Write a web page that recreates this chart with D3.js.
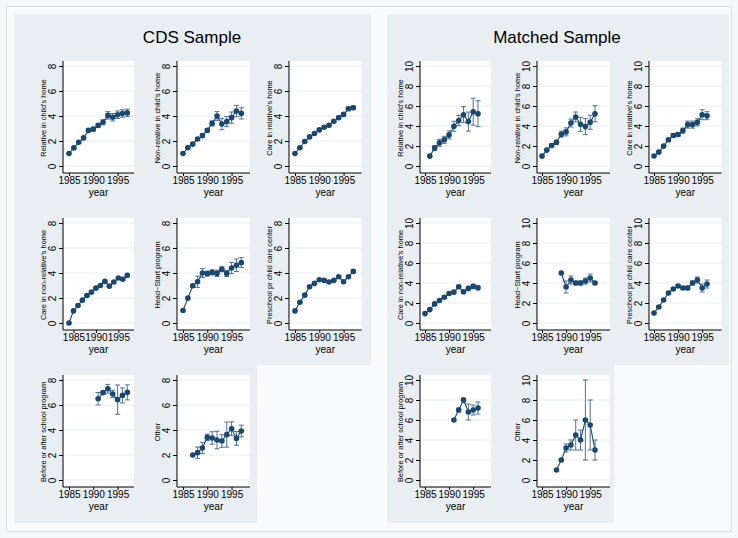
<!DOCTYPE html>
<html>
<head>
<meta charset="utf-8">
<script src="https://cdn.jsdelivr.net/npm/d3@7"></script>
<style>
body { margin: 0; background: #ffffff; }
svg { display: block; font-family: "Liberation Sans", Arial, sans-serif; }
</style>
</head>
<body>
<div id="chart"></div>
<script>
// Data: mean value by child's birth year, with half-width of the 95% band
var xTicks = [1985, 1990, 1995];
var cdsTicks = [0, 2, 4, 6, 8];
var matTicks = [0, 2, 4, 6, 8, 10];

// CDS sample
var cdsYears = [1985, 1986, 1987, 1988, 1989, 1990, 1991, 1992, 1993, 1994, 1995, 1996, 1997];
var cdsYears84 = [1984, 1985, 1986, 1987, 1988, 1989, 1990, 1991, 1992, 1993, 1994, 1995, 1996, 1997];
var cdsYearsSchool = [1991, 1992, 1993, 1994, 1995, 1996, 1997];
var cdsYearsOther = [1987, 1988, 1989, 1990, 1991, 1992, 1993, 1994, 1995, 1996, 1997];

var cdsRelChild = [1.0, 1.45, 1.9, 2.25, 2.85, 2.95, 3.25, 3.5, 4.05, 3.9, 4.1, 4.2, 4.25];
var cdsRelChildErr = [0, 0.05, 0.08, 0.1, 0.12, 0.15, 0.15, 0.2, 0.3, 0.3, 0.3, 0.3, 0.3];
var cdsNonRelChild = [1.0, 1.47, 1.75, 2.16, 2.43, 2.85, 3.41, 4.0, 3.36, 3.55, 3.87, 4.4, 4.21];
var cdsNonRelChildErr = [0, 0.08, 0.1, 0.1, 0.12, 0.15, 0.2, 0.35, 0.45, 0.4, 0.45, 0.45, 0.45];
var cdsRelHome = [1.0, 1.46, 1.96, 2.33, 2.6, 2.89, 3.1, 3.26, 3.58, 3.87, 4.13, 4.58, 4.66];
var cdsRelHomeErr = [0, 0.05, 0.08, 0.1, 0.1, 0.1, 0.1, 0.12, 0.12, 0.12, 0.15, 0.15, 0.15];
var cdsNonRelHome = [0, 0.97, 1.4, 1.83, 2.2, 2.47, 2.79, 3.0, 3.33, 2.95, 3.28, 3.6, 3.5, 3.81];
var cdsNonRelHomeErr = [0, 0.03, 0.05, 0.05, 0.06, 0.06, 0.07, 0.07, 0.08, 0.08, 0.08, 0.1, 0.1, 0.1];
var cdsHeadStart = [1.0, 1.99, 2.98, 3.3, 4.0, 3.95, 4.05, 3.97, 4.3, 3.97, 4.4, 4.62, 4.83];
var cdsHeadStartErr = [0, 0.05, 0.1, 0.45, 0.35, 0.2, 0.2, 0.25, 0.2, 0.25, 0.45, 0.5, 0.4];
var cdsPreschool = [0.97, 1.66, 2.23, 2.9, 3.17, 3.46, 3.41, 3.28, 3.41, 3.7, 3.3, 3.7, 4.13];
var cdsPreschoolErr = [0, 0.04, 0.05, 0.06, 0.06, 0.07, 0.07, 0.07, 0.07, 0.08, 0.08, 0.08, 0.1];
var cdsSchool = [6.5, 6.99, 7.3, 6.88, 6.43, 6.77, 7.01];
var cdsSchoolErr = [0.5, 0.1, 0.35, 0.3, 1.17, 0.6, 0.6];
var cdsOther = [2.0, 2.19, 2.56, 3.41, 3.36, 3.2, 3.12, 3.63, 4.1, 3.33, 3.92];
var cdsOtherErr = [0.05, 0.45, 0.45, 0.25, 0.5, 0.7, 0.5, 1.0, 0.55, 0.55, 0.47];

// Matched sample
var matYears86 = [1986, 1987, 1988, 1989, 1990, 1991, 1992, 1993, 1994, 1995, 1996];
var matYears = [1985, 1986, 1987, 1988, 1989, 1990, 1991, 1992, 1993, 1994, 1995, 1996];
var matYearsHead = [1989, 1990, 1991, 1992, 1993, 1994, 1995, 1996];
var matYearsSchool = [1991, 1992, 1993, 1994, 1995, 1996];
var matYearsOther = [1988, 1989, 1990, 1991, 1992, 1993, 1994, 1995, 1996];

var matRelChild = [0.99, 1.79, 2.32, 2.62, 3.11, 3.97, 4.54, 5.13, 4.44, 5.43, 5.23];
var matRelChildErr = [0, 0.25, 0.35, 0.35, 0.4, 0.5, 0.5, 0.8, 0.95, 1.35, 1.3];
var matNonRelChild = [0.99, 1.59, 2.05, 2.38, 3.18, 3.41, 4.3, 4.9, 4.17, 3.94, 4.37, 5.23];
var matNonRelChildErr = [0, 0.1, 0.15, 0.2, 0.3, 0.4, 0.4, 0.5, 0.7, 0.8, 0.7, 0.8];
var matRelHome = [1.0, 1.39, 1.99, 2.62, 3.05, 3.15, 3.54, 4.14, 4.14, 4.37, 5.13, 5.03];
var matRelHomeErr = [0, 0.1, 0.12, 0.15, 0.2, 0.2, 0.25, 0.35, 0.35, 0.35, 0.5, 0.4];
var matNonRelHome = [0.94, 1.34, 1.91, 2.25, 2.58, 2.95, 3.09, 3.62, 3.12, 3.46, 3.66, 3.52];
var matNonRelHomeErr = [0, 0.1, 0.1, 0.1, 0.12, 0.12, 0.15, 0.15, 0.15, 0.2, 0.2, 0.2];
var matHeadStart = [5.0, 3.6, 4.3, 4.0, 4.0, 4.2, 4.5, 4.0];
var matHeadStartErr = [0, 0.6, 0.4, 0.2, 0.2, 0.3, 0.4, 0.1];
var matPreschool = [1.0, 1.6, 2.3, 3.0, 3.4, 3.7, 3.5, 3.5, 4.0, 4.3, 3.5, 3.9];
var matPreschoolErr = [0, 0.1, 0.1, 0.15, 0.15, 0.15, 0.15, 0.2, 0.2, 0.3, 0.4, 0.4];
var matSchool = [6.0, 7.0, 8.0, 6.8, 7.0, 7.2];
var matSchoolErr = [0, 0.2, 0.2, 0.8, 0.5, 0.6];
var matOther = [1.0, 2.0, 3.2, 3.5, 4.5, 4.0, 6.0, 5.5, 3.0];
var matOtherErr = [0, 0.1, 0.4, 0.5, 1.5, 1.0, 4.0, 2.5, 1.0];

// Chart setup
var svgWidth = 738;
var svgHeight = 538;
var plotH = 112;
var rowTops = [61, 218, 375];
var colWidths = [71, 73, 72.5];
var cdsCols = [63, 177, 289];
var matCols = [420, 537, 649];
var cdsXRange = [6, 64.3];
var matXRange = [5, 58];

var navy = "#1a476f";
var capColor = "#4f7394";
var bgColor = "#e8eef1";

var panels = [
  {set: "cds", c: 0, row: 0, yt: cdsTicks, years: cdsYears, v: cdsRelChild, e: cdsRelChildErr, dom: [1985, 1997], label: "Relative in child's home"},
  {set: "cds", c: 1, row: 0, yt: cdsTicks, years: cdsYears, v: cdsNonRelChild, e: cdsNonRelChildErr, dom: [1985, 1997], label: "Non-relative in child's home"},
  {set: "cds", c: 2, row: 0, yt: cdsTicks, years: cdsYears, v: cdsRelHome, e: cdsRelHomeErr, dom: [1985, 1997], label: "Care in relative's home"},
  {set: "cds", c: 0, row: 1, yt: cdsTicks, years: cdsYears84, v: cdsNonRelHome, e: cdsNonRelHomeErr, dom: [1984, 1997], label: "Care in non-relative's home"},
  {set: "cds", c: 1, row: 1, yt: cdsTicks, years: cdsYears, v: cdsHeadStart, e: cdsHeadStartErr, dom: [1985, 1997], label: "Head\u2212Start program"},
  {set: "cds", c: 2, row: 1, yt: cdsTicks, years: cdsYears, v: cdsPreschool, e: cdsPreschoolErr, dom: [1985, 1997], label: "Preschool pr child care center"},
  {set: "cds", c: 0, row: 2, yt: cdsTicks, years: cdsYearsSchool, v: cdsSchool, e: cdsSchoolErr, dom: [1985, 1997], label: "Before or after school program"},
  {set: "cds", c: 1, row: 2, yt: cdsTicks, years: cdsYearsOther, v: cdsOther, e: cdsOtherErr, dom: [1985, 1997], label: "Other"},
  {set: "mat", c: 0, row: 0, yt: matTicks, years: matYears86, v: matRelChild, e: matRelChildErr, dom: [1985, 1996], label: "Relative in child's home"},
  {set: "mat", c: 1, row: 0, yt: matTicks, years: matYears, v: matNonRelChild, e: matNonRelChildErr, dom: [1985, 1996], label: "Non-relative in child's home"},
  {set: "mat", c: 2, row: 0, yt: matTicks, years: matYears, v: matRelHome, e: matRelHomeErr, dom: [1985, 1996], label: "Care in relative's home"},
  {set: "mat", c: 0, row: 1, yt: matTicks, years: matYears, v: matNonRelHome, e: matNonRelHomeErr, dom: [1985, 1996], label: "Care in non-relative's home"},
  {set: "mat", c: 1, row: 1, yt: matTicks, years: matYearsHead, v: matHeadStart, e: matHeadStartErr, dom: [1985, 1996], label: "Head\u2212Start program"},
  {set: "mat", c: 2, row: 1, yt: matTicks, years: matYears, v: matPreschool, e: matPreschoolErr, dom: [1985, 1996], label: "Preschool pr child care center"},
  {set: "mat", c: 0, row: 2, yt: matTicks, years: matYearsSchool, v: matSchool, e: matSchoolErr, dom: [1985, 1996], label: "Before or after school program"},
  {set: "mat", c: 1, row: 2, yt: matTicks, years: matYearsOther, v: matOther, e: matOtherErr, dom: [1985, 1996], label: "Other"}
];

// SVG setup
var svg = d3.select("#chart").append("svg")
  .attr("width", svgWidth)
  .attr("height", svgHeight);

svg.append("rect")
  .attr("x", 0).attr("y", 0)
  .attr("width", svgWidth).attr("height", svgHeight)
  .attr("fill", "#f6f8f9");

svg.append("rect")
  .attr("x", 6.5).attr("y", 6.5)
  .attr("width", svgWidth - 13).attr("height", svgHeight - 13)
  .attr("fill", "#f8fafb")
  .attr("stroke", "#d8dde0");

// Panel backgrounds (L shaped, empty third cell)
var bgRects = [
  [14, 14, 357, 351], [14, 364, 243, 159],
  [387, 14, 342, 351], [387, 364, 227, 159]
];
svg.selectAll(".bg")
  .data(bgRects)
  .enter()
  .append("rect")
  .attr("x", d => d[0]).attr("y", d => d[1])
  .attr("width", d => d[2]).attr("height", d => d[3])
  .attr("fill", bgColor);

// Titles
svg.append("text")
  .attr("x", 192).attr("y", 43)
  .attr("text-anchor", "middle")
  .attr("font-size", "17px")
  .text("CDS Sample");

svg.append("text")
  .attr("x", 557).attr("y", 43)
  .attr("text-anchor", "middle")
  .attr("font-size", "17px")
  .text("Matched Sample");

// Draw each small graph
panels.forEach(function(p) {
  var left = p.set == "cds" ? cdsCols[p.c] : matCols[p.c];
  var top = rowTops[p.row];
  var plotW = colWidths[p.c];
  var g = svg.append("g")
    .attr("transform", `translate(${left}, ${top})`);

  var x = d3.scaleLinear()
    .domain(p.dom)
    .range(p.set == "cds" ? cdsXRange : matXRange);
  var y = d3.scaleLinear()
    .domain([0, d3.max(p.yt)])
    .range([105, 5]);

  // plot region
  g.append("rect")
    .attr("width", plotW).attr("height", plotH)
    .attr("fill", "#ffffff");

  // gridlines
  g.selectAll(".grid")
    .data(p.yt)
    .enter()
    .append("line")
    .attr("x1", 0).attr("x2", plotW)
    .attr("y1", d => y(d)).attr("y2", d => y(d))
    .attr("stroke", "#e6eef0")
    .attr("stroke-width", 1);

  // axes
  var leftAxis = d3.axisLeft(y).tickValues(p.yt).tickSize(4).tickPadding(3).tickFormat(d3.format("d"));
  var bottomAxis = d3.axisBottom(x).tickValues(xTicks).tickSize(3).tickPadding(1).tickFormat(d3.format("d"));

  var ya = g.append("g").call(leftAxis);
  ya.select(".domain").attr("d", `M0,0V${plotH}`).attr("stroke", "#000");
  ya.selectAll("text")
    .attr("transform", "rotate(-90)")
    .attr("x", 0)
    .attr("y", -7)
    .attr("dy", "0")
    .attr("text-anchor", "middle")
    .attr("font-size", "10px")
    .attr("font-family", "Liberation Sans, Arial, sans-serif")
    .attr("fill", "#000");

  var xa = g.append("g")
    .attr("transform", `translate(0, ${plotH})`)
    .call(bottomAxis);
  xa.select(".domain").attr("d", `M0,0H${plotW}`).attr("stroke", "#000");
  xa.selectAll("text")
    .attr("font-size", "10px")
    .attr("font-family", "Liberation Sans, Arial, sans-serif")
    .attr("fill", "#000");

  // axis titles
  g.append("text")
    .attr("transform", `translate(-17, ${plotH / 2 + 1}) rotate(-90)`)
    .attr("text-anchor", "middle")
    .attr("font-size", "7.4px")
    .text(p.label);

  g.append("text")
    .attr("x", plotW / 2).attr("y", plotH + 22.5)
    .attr("text-anchor", "middle")
    .attr("font-size", "10px")
    .text("year");

  var pts = p.years.map(function(yr, i) { return {yr: yr, v: p.v[i], e: p.e[i]}; });

  // error bars with caps
  var bars = g.selectAll(".bar")
    .data(pts.filter(d => d.e > 0))
    .enter()
    .append("g")
    .attr("stroke", capColor)
    .attr("stroke-width", 1);
  bars.append("line")
    .attr("x1", d => x(d.yr)).attr("x2", d => x(d.yr))
    .attr("y1", d => y(d.v - d.e)).attr("y2", d => y(d.v + d.e));
  bars.append("line")
    .attr("x1", d => x(d.yr) - 2.5).attr("x2", d => x(d.yr) + 2.5)
    .attr("y1", d => y(d.v - d.e)).attr("y2", d => y(d.v - d.e));
  bars.append("line")
    .attr("x1", d => x(d.yr) - 2.5).attr("x2", d => x(d.yr) + 2.5)
    .attr("y1", d => y(d.v + d.e)).attr("y2", d => y(d.v + d.e));

  // connected line and markers
  var line = d3.line().x(d => x(d.yr)).y(d => y(d.v));
  g.append("path")
    .datum(pts)
    .attr("d", line)
    .attr("fill", "none")
    .attr("stroke", navy)
    .attr("stroke-width", 1.1);

  g.selectAll(".pt")
    .data(pts)
    .enter()
    .append("circle")
    .attr("cx", d => x(d.yr))
    .attr("cy", d => y(d.v))
    .attr("r", 2.8)
    .attr("fill", navy);
});
</script>
</body>
</html>
